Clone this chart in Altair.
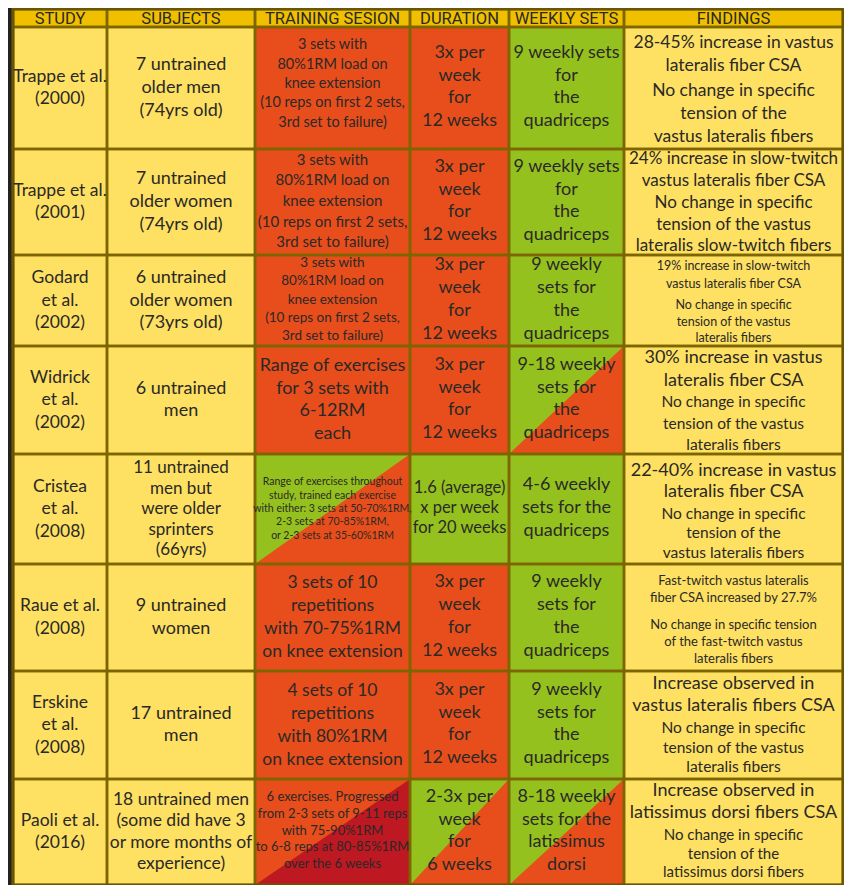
import altair as alt
import pandas as pd

# ---------------- data ----------------
HEADERS = ["STUDY", "SUBJECTS", "TRAINING SESION", "DURATION", "WEEKLY SETS", "FINDINGS"]

STUDIES = ["Trappe et al.\n(2000)", "Trappe et al.\n(2001)", "Godard\net al.\n(2002)",
           "Widrick\net al.\n(2002)", "Cristea\net al.\n(2008)", "Raue et al.\n(2008)",
           "Erskine\net al.\n(2008)", "Paoli et al.\n(2016)"]

SUBJECTS = ["7 untrained\nolder men\n(74yrs old)", "7 untrained\nolder women\n(74yrs old)",
            "6 untrained\nolder women\n(73yrs old)", "6 untrained\nmen",
            "11 untrained\nmen but\nwere older\nsprinters\n(66yrs)", "9 untrained\nwomen",
            "17 untrained\nmen",
            "18 untrained men\n(some did have 3\nor more months of\nexperience)"]

TRAINING = [
    "3 sets with\n80%1RM load on\nknee extension\n(10 reps on first 2 sets,\n3rd set to failure)",
    "3 sets with\n80%1RM load on\nknee extension\n(10 reps on first 2 sets,\n3rd set to failure)",
    "3 sets with\n80%1RM load on\nknee extension\n(10 reps on first 2 sets,\n3rd set to failure)",
    "Range of exercises\nfor 3 sets with\n6-12RM\neach",
    "Range of exercises throughout\nstudy, trained each exercise\nwith either: 3 sets at 50-70%1RM,\n2-3 sets at 70-85%1RM,\nor 2-3 sets at 35-60%1RM",
    "3 sets of 10\nrepetitions\nwith 70-75%1RM\non knee extension",
    "4 sets of 10\nrepetitions\nwith 80%1RM\non knee extension",
    "6 exercises. Progressed\nfrom 2-3 sets of 9-11 reps\nwith 75-90%1RM\nto 6-8 reps at 80-85%1RM\nover the 6 weeks",
]

DURATION = ["3x per\nweek\nfor\n12 weeks", "3x per\nweek\nfor\n12 weeks", "3x per\nweek\nfor\n12 weeks",
            "3x per\nweek\nfor\n12 weeks", "1.6 (average)\nx per week\nfor 20 weeks",
            "3x per\nweek\nfor\n12 weeks", "3x per\nweek\nfor\n12 weeks", "2-3x per\nweek\nfor\n6 weeks"]

WEEKLY = ["9 weekly sets\nfor\nthe\nquadriceps", "9 weekly sets\nfor\nthe\nquadriceps",
          "9 weekly\nsets for\nthe\nquadriceps", "9-18 weekly\nsets for\nthe\nquadriceps",
          "4-6 weekly\nsets for the\nquadriceps", "9 weekly\nsets for\nthe\nquadriceps",
          "9 weekly\nsets for\nthe\nquadriceps", "8-18 weekly\nsets for the\nlatissimus\ndorsi"]

FINDINGS_CSA = ["28-45% increase in vastus\nlateralis fiber CSA",
                "24% increase in slow-twitch\nvastus lateralis fiber CSA",
                "19% increase in slow-twitch\nvastus lateralis fiber CSA",
                "30% increase in vastus\nlateralis fiber CSA",
                "22-40% increase in vastus\nlateralis fiber CSA",
                "Fast-twitch vastus lateralis\nfiber CSA increased by 27.7%",
                "Increase observed in\nvastus lateralis fibers CSA",
                "Increase observed in\nlatissimus dorsi fibers CSA"]

FINDINGS_TENSION = ["No change in specific\ntension of the\nvastus lateralis fibers",
                    "No change in specific\ntension of the vastus\nlateralis slow-twitch fibers",
                    "No change in specific\ntension of the vastus\nlateralis fibers",
                    "No change in specific\ntension of the vastus\nlateralis fibers",
                    "No change in specific\ntension of the\nvastus lateralis fibers",
                    "No change in specific tension\nof the fast-twitch vastus\nlateralis fibers",
                    "No change in specific\ntension of the vastus\nlateralis fibers",
                    "No change in specific\ntension of the\nlatissimus dorsi fibers"]

# cell colour categories ("upper-left|lower-right" for diagonally split cells)
STUDY_FILL = ["yellow"] * 8
SUBJECT_FILL = ["yellow"] * 8
TRAINING_FILL = ["orange", "orange", "orange", "orange", "green|orange", "orange", "orange", "orange|red"]
DURATION_FILL = ["orange", "orange", "orange", "orange", "green", "orange", "orange", "green|orange"]
WEEKLY_FILL = ["green", "green", "green", "green|orange", "green", "green", "green", "green|orange"]
FINDINGS_FILL = ["yellow"] * 8

# ---------------- layout / style ----------------
W, H = 836, 877
COL_EDGES = [5, 99, 247, 402, 501, 616, 835]
ROW_EDGES = [1, 19, 141, 247, 338, 446, 556, 663, 771, 877]

PALETTE = {"header": "#efbf00", "yellow": "#fee062", "orange": "#e84e1c",
           "green": "#95c11f", "red": "#be1823"}
BORDER = "#7d6500"
TEXT = "#2a2926"
BG = "#222222"

# (fontSize, lineHeight, dy) per row
S_STUDY = [(17.5, 22.5, 0)] * 8
S_SUBJ = [(18, 22.7, 0)] * 4 + [(17, 20.5, 0)] + [(18, 22.7, 0)] * 2 + [(17.5, 21.5, 0)]
S_TRAIN = [(14.5, 19.3, -4), (15, 20.7, -1), (13.5, 18.2, -1), (18, 22.7, 0),
           (10.5, 13.4, 0), (17.5, 23, 0), (17.5, 23, 0), (13, 16.8, -1.5)]
S_DUR = [(18, 22.7, -1)] * 4 + [(16.5, 20, -1)] + [(18, 22.7, -1)] * 3
S_WEEK = [(18, 22.7, -1)] * 8
S_FA = [(17.5, 23, -33.5), (17, 22, -32), (12.5, 17.5, -25.5), (18, 23, -30.5),
        (18, 21.5, -27.5), (13, 17.5, -28), (18, 22, -30), (18, 22, -30)]
S_FB = [(17.5, 23, 25.5), (17, 21.5, 22.7), (12.5, 16.5, 21), (15.5, 21.5, 23.7),
        (15.5, 19.5, 24.3), (13, 17, 24.5), (15.5, 19.5, 22.7), (15, 18.5, 21.7)]

# ---------------- build tables ----------------
cells, tris, lines = [], [], []

for c, h in enumerate(HEADERS):
    cells.append(dict(x0=COL_EDGES[c], x1=COL_EDGES[c + 1], y0=ROW_EDGES[0], y1=ROW_EDGES[1], fill="header"))

columns = [
    (STUDY_FILL, [(STUDIES, S_STUDY)]),
    (SUBJECT_FILL, [(SUBJECTS, S_SUBJ)]),
    (TRAINING_FILL, [(TRAINING, S_TRAIN)]),
    (DURATION_FILL, [(DURATION, S_DUR)]),
    (WEEKLY_FILL, [(WEEKLY, S_WEEK)]),
    (FINDINGS_FILL, [(FINDINGS_CSA, S_FA), (FINDINGS_TENSION, S_FB)]),
]

for c, (fills, blocks) in enumerate(columns):
    x0, x1 = COL_EDGES[c], COL_EDGES[c + 1]
    cx = (x0 + x1) / 2
    for r in range(8):
        y0, y1 = ROW_EDGES[r + 1], ROW_EDGES[r + 2]
        cy = (y0 + y1) / 2
        parts = fills[r].split("|")
        cells.append(dict(x0=x0, x1=x1, y0=y0, y1=y1, fill=parts[-1]))
        if len(parts) == 2:
            cid = f"{r}-{c}"
            tris.append(dict(cell=cid, x=x0, top=y0, bottom=y1, fill=parts[0]))
            tris.append(dict(cell=cid, x=x1, top=y0, bottom=y0, fill=parts[0]))
        for texts, styles in blocks:
            fs, lh, dy = styles[r]
            ls = texts[r].split("\n")
            n = len(ls)
            for i, t in enumerate(ls):
                lines.append(dict(x=cx, y=cy + dy + (i - (n - 1) / 2) * lh, t=t, fs=fs))

header_txt = pd.DataFrame([dict(x=(COL_EDGES[c] + COL_EDGES[c + 1]) / 2,
                                y=(ROW_EDGES[0] + ROW_EDGES[1]) / 2 + 1, t=h)
                           for c, h in enumerate(HEADERS)])
cells = pd.DataFrame(cells)
tris = pd.DataFrame(tris)
lines = pd.DataFrame(lines)
outer = pd.DataFrame([dict(x0=COL_EDGES[0], x1=COL_EDGES[-1], y0=ROW_EDGES[0], y1=ROW_EDGES[-1])])

xs = alt.Scale(domain=[0, W], nice=False, zero=False)
ys = alt.Scale(domain=[0, H], nice=False, zero=False, reverse=True)
cs = alt.Scale(domain=list(PALETTE.keys()), range=list(PALETTE.values()))

base_rect = alt.Chart(cells).mark_rect(strokeWidth=0).encode(
    x=alt.X("x0:Q", scale=xs, axis=None), x2="x1:Q",
    y=alt.Y("y0:Q", scale=ys, axis=None), y2="y1:Q",
    color=alt.Color("fill:N", scale=cs, legend=None),
)

tri = alt.Chart(tris).mark_area(interpolate="linear", strokeWidth=0).encode(
    x=alt.X("x:Q", scale=xs, axis=None),
    y=alt.Y("top:Q", scale=ys, axis=None), y2="bottom:Q",
    color=alt.Color("fill:N", scale=cs, legend=None),
    detail="cell:N",
)

grid = alt.Chart(cells).mark_rect(fillOpacity=0, stroke=BORDER, strokeWidth=2.5).encode(
    x=alt.X("x0:Q", scale=xs, axis=None), x2="x1:Q",
    y=alt.Y("y0:Q", scale=ys, axis=None), y2="y1:Q",
)

frame = alt.Chart(outer).mark_rect(fillOpacity=0, stroke="#6a5500", strokeWidth=3).encode(
    x=alt.X("x0:Q", scale=xs, axis=None), x2="x1:Q",
    y=alt.Y("y0:Q", scale=ys, axis=None), y2="y1:Q",
)

body_text = alt.Chart(lines).mark_text(font="Lato", color=TEXT, align="center", baseline="middle").encode(
    x=alt.X("x:Q", scale=xs, axis=None),
    y=alt.Y("y:Q", scale=ys, axis=None),
    text="t:N",
    size=alt.Size("fs:Q", scale=None),
)

head_text = alt.Chart(header_txt).mark_text(font="Roboto", fontSize=16.5, color=TEXT,
                                             align="center", baseline="middle").encode(
    x=alt.X("x:Q", scale=xs, axis=None),
    y=alt.Y("y:Q", scale=ys, axis=None),
    text="t:N",
)

chart = alt.layer(base_rect, tri, grid, frame, body_text, head_text).properties(
    width=W, height=H, padding=0, autosize="none", background=BG
).configure_view(stroke=None)

chart.save("out.html", embed_options={"renderer": "svg", "actions": False})
